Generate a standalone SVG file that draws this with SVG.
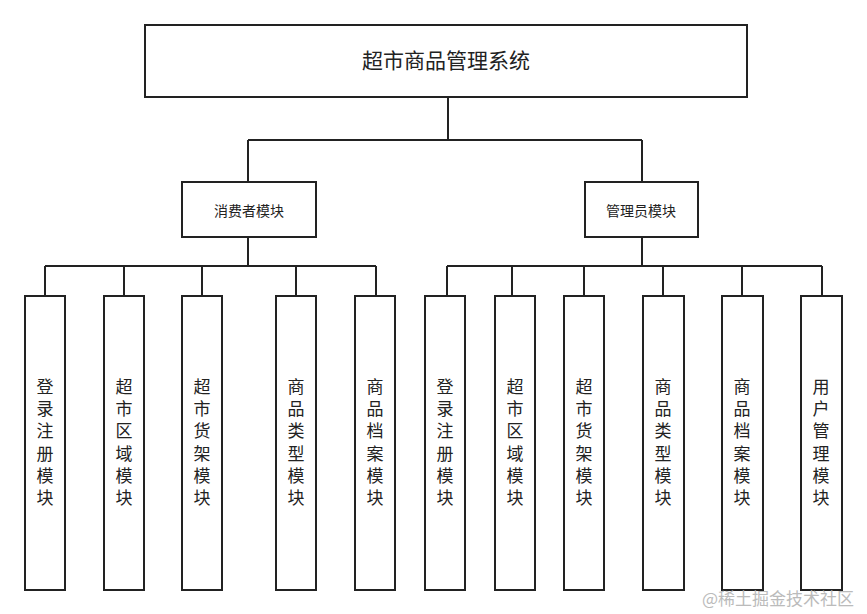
<svg xmlns="http://www.w3.org/2000/svg" width="867" height="614" viewBox="0 0 867 614">
<style>
rect{fill:#fff;stroke:#222;stroke-width:2}
.c{stroke:#222;stroke-width:2;fill:none}
text{font-family:"Noto Sans CJK SC",sans-serif;fill:#222;text-anchor:middle}
.v{font-size:17px}
</style>
<rect x="0" y="0" width="867" height="614" style="stroke:none"/>
<g id="connectors">
<path class="c" d="M448 97V140M248 140H642M248 140V182M642 140V182"/>
<path class="c" d="M248 237V266M45 266H376M45 266V296M124 266V296M202 266V296M296 266V296M376 266V296"/>
<path class="c" d="M642 237V266M447 266H822M447 266V296M512 266V296M584 266V296M663 266V296M742 266V296M822 266V296"/>
</g>
<g id="root"><rect x="145" y="25" width="602" height="72"/><text x="446" y="68" font-size="21">超市商品管理系统</text></g>
<g id="consumer"><rect x="182" y="182" width="134" height="55"/><text x="249" y="216" font-size="14">消费者模块</text></g>
<g id="admin"><rect x="585" y="182" width="113" height="55"/><text x="641" y="216" font-size="14">管理员模块</text></g>
<g id="c1"><rect x="25" y="296" width="40" height="294"/><text class="v" x="45"><tspan x="45" y="393">登</tspan><tspan x="45" dy="22.2">录</tspan><tspan x="45" dy="22.2">注</tspan><tspan x="45" dy="22.2">册</tspan><tspan x="45" dy="22.2">模</tspan><tspan x="45" dy="22.2">块</tspan></text></g>
<g id="c2"><rect x="104" y="296" width="40" height="294"/><text class="v"><tspan x="124" y="393">超</tspan><tspan x="124" dy="22.2">市</tspan><tspan x="124" dy="22.2">区</tspan><tspan x="124" dy="22.2">域</tspan><tspan x="124" dy="22.2">模</tspan><tspan x="124" dy="22.2">块</tspan></text></g>
<g id="c3"><rect x="182" y="296" width="40" height="294"/><text class="v"><tspan x="202" y="393">超</tspan><tspan x="202" dy="22.2">市</tspan><tspan x="202" dy="22.2">货</tspan><tspan x="202" dy="22.2">架</tspan><tspan x="202" dy="22.2">模</tspan><tspan x="202" dy="22.2">块</tspan></text></g>
<g id="c4"><rect x="276" y="296" width="40" height="294"/><text class="v"><tspan x="296" y="393">商</tspan><tspan x="296" dy="22.2">品</tspan><tspan x="296" dy="22.2">类</tspan><tspan x="296" dy="22.2">型</tspan><tspan x="296" dy="22.2">模</tspan><tspan x="296" dy="22.2">块</tspan></text></g>
<g id="c5"><rect x="355" y="296" width="40" height="294"/><text class="v"><tspan x="375" y="393">商</tspan><tspan x="375" dy="22.2">品</tspan><tspan x="375" dy="22.2">档</tspan><tspan x="375" dy="22.2">案</tspan><tspan x="375" dy="22.2">模</tspan><tspan x="375" dy="22.2">块</tspan></text></g>
<g id="a1"><rect x="425" y="296" width="40" height="294"/><text class="v"><tspan x="445" y="393">登</tspan><tspan x="445" dy="22.2">录</tspan><tspan x="445" dy="22.2">注</tspan><tspan x="445" dy="22.2">册</tspan><tspan x="445" dy="22.2">模</tspan><tspan x="445" dy="22.2">块</tspan></text></g>
<g id="a2"><rect x="495" y="296" width="40" height="294"/><text class="v"><tspan x="515" y="393">超</tspan><tspan x="515" dy="22.2">市</tspan><tspan x="515" dy="22.2">区</tspan><tspan x="515" dy="22.2">域</tspan><tspan x="515" dy="22.2">模</tspan><tspan x="515" dy="22.2">块</tspan></text></g>
<g id="a3"><rect x="564" y="296" width="40" height="294"/><text class="v"><tspan x="584" y="393">超</tspan><tspan x="584" dy="22.2">市</tspan><tspan x="584" dy="22.2">货</tspan><tspan x="584" dy="22.2">架</tspan><tspan x="584" dy="22.2">模</tspan><tspan x="584" dy="22.2">块</tspan></text></g>
<g id="a4"><rect x="643" y="296" width="41" height="294"/><text class="v"><tspan x="663" y="393">商</tspan><tspan x="663" dy="22.2">品</tspan><tspan x="663" dy="22.2">类</tspan><tspan x="663" dy="22.2">型</tspan><tspan x="663" dy="22.2">模</tspan><tspan x="663" dy="22.2">块</tspan></text></g>
<g id="a5"><rect x="722" y="296" width="41" height="294"/><text class="v"><tspan x="742" y="393">商</tspan><tspan x="742" dy="22.2">品</tspan><tspan x="742" dy="22.2">档</tspan><tspan x="742" dy="22.2">案</tspan><tspan x="742" dy="22.2">模</tspan><tspan x="742" dy="22.2">块</tspan></text></g>
<g id="a6"><rect x="801" y="296" width="41" height="294"/><text class="v"><tspan x="821" y="393">用</tspan><tspan x="821" dy="22.2">户</tspan><tspan x="821" dy="22.2">管</tspan><tspan x="821" dy="22.2">理</tspan><tspan x="821" dy="22.2">模</tspan><tspan x="821" dy="22.2">块</tspan></text></g>
<text x="778" y="605" font-size="17" style="fill:#bbb">@稀土掘金技术社区</text>
</svg>
